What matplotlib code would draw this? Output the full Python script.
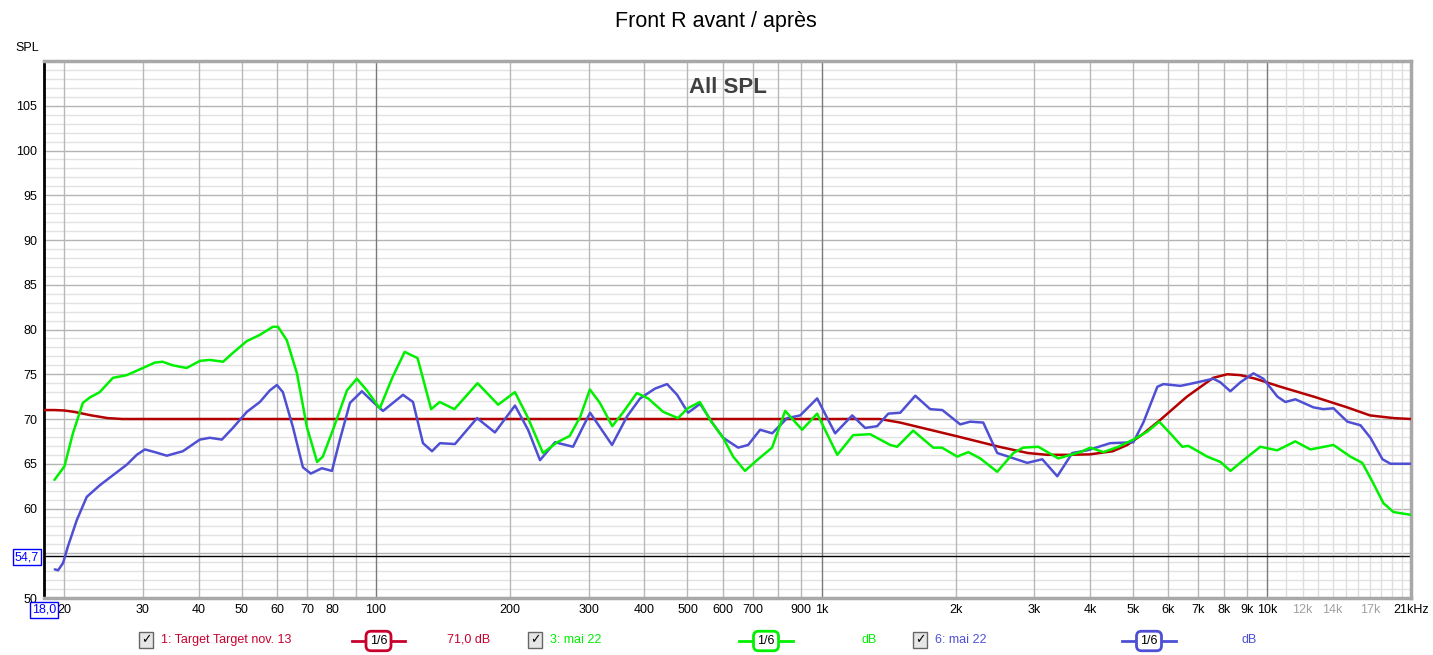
import matplotlib
matplotlib.use('Agg')
import matplotlib.pyplot as plt
from matplotlib.lines import Line2D

plt.rcParams['font.family'] = ['Liberation Sans', 'DejaVu Sans']

# ---- data (Hz, dB) ----
target_f = [18, 19, 20, 21, 22, 23, 24, 25, 27, 30, 100, 1000, 1350, 1500, 2000, 2500, 2900,
            3200, 3600, 4000, 4500, 4850, 5250, 5750, 6600, 7560, 8130, 8700, 9400, 10700,
            12700, 15100, 17000, 19200, 21000]
target_db = [71.0, 71.0, 70.95, 70.8, 70.6, 70.4, 70.25, 70.1, 70.0, 70.0, 70.0, 70.0, 70.0,
             69.6, 68.1, 66.9, 66.2, 66.0, 66.0, 66.05, 66.4, 67.1, 68.3, 69.9, 72.5, 74.6,
             75.0, 74.9, 74.5, 73.6, 72.5, 71.3, 70.4, 70.1, 70.0]

green_f = [19.0, 20.0, 20.9, 22.0, 22.8, 24.0, 25.7, 27.6, 30.0, 31.9, 33.2, 35.0, 37.6, 40.3,
           42.4, 45.4, 47.8, 51.3, 54.9, 58.7, 60.3, 63.1, 66.5, 70.0, 73.8, 76.0, 80.1, 86.1,
           90.6, 95.4, 102, 109, 116, 124, 133, 139, 150, 169, 188, 205, 219, 237, 255, 272,
           287, 302, 318, 339, 358, 385, 408, 441, 476, 501, 533, 562, 601, 633, 673, 716,
           774, 828, 904, 977, 1084, 1177, 1285, 1353, 1425, 1477, 1604, 1780, 1862, 2014,
           2133, 2268, 2477, 2692, 2833, 3062, 3396, 3802, 4006, 4285, 4634, 5003, 5382, 5720,
           6053, 6442, 6651, 7328, 7848, 8265, 8835, 9642, 10520, 11550, 12490, 14070, 15350,
           16330, 17290, 18210, 19190, 20940]
green_db = [63.2, 64.7, 68.4, 71.8, 72.4, 73.0, 74.6, 74.9, 75.7, 76.3, 76.4, 76.0, 75.7, 76.5,
            76.6, 76.4, 77.4, 78.7, 79.4, 80.3, 80.3, 78.8, 75.1, 69.1, 65.2, 65.8, 68.8, 73.2,
            74.5, 73.2, 71.2, 74.7, 77.5, 76.8, 71.1, 71.9, 71.1, 74.0, 71.6, 73.0, 70.2, 66.2,
            67.4, 68.1, 70.2, 73.3, 71.8, 69.2, 70.7, 72.9, 72.3, 70.8, 70.1, 71.2, 71.9, 69.9,
            67.9, 65.8, 64.2, 65.4, 66.8, 70.9, 68.8, 70.6, 66.0, 68.2, 68.3, 67.7, 67.1, 66.9,
            68.7, 66.8, 66.8, 65.8, 66.3, 65.6, 64.1, 66.2, 66.8, 66.9, 65.6, 66.3, 66.8, 66.3,
            66.9, 67.7, 68.6, 69.7, 68.4, 66.9, 67.0, 65.8, 65.2, 64.2, 65.4, 66.9, 66.5, 67.5,
            66.6, 67.1, 65.8, 65.1, 62.8, 60.6, 59.6, 59.3]

blue_f = [19.03, 19.36, 19.86, 20.35, 21.32, 22.45, 24.02, 25.67, 27.61, 29.07, 30.31, 31.91,
          33.95, 36.88, 40.26, 42.40, 45.11, 47.75, 51.34, 54.90, 57.82, 59.95, 61.83, 65.12,
          68.58, 71.45, 75.62, 79.66, 83.02, 87.45, 93.0, 98.5, 103.7, 109.2, 115.0, 121.1,
          127.5, 133.6, 139.2, 150.4, 168.6, 184.9, 205.1, 219.4, 233.4, 252.2, 276.8, 302.3,
          338.6, 366.0, 391.4, 422.9, 450.0, 473.9, 501.5, 533.8, 567.9, 601.2, 649.5, 683.9,
          727.8, 774.5, 836.9, 894.9, 977.0, 1072, 1171, 1252, 1332, 1411, 1501, 1622, 1752,
          1865, 2046, 2154, 2304, 2477, 2622, 2892, 3126, 3378, 3650, 3945, 4442, 5003, 5268,
          5665, 5844, 6378, 6823, 7564, 7845, 8258, 8698, 9303, 9795, 10530, 10975, 11560,
          12685, 13357, 14067, 15120, 16175, 17030, 18125, 18890, 20940]
blue_db = [53.2, 53.1, 53.9, 55.7, 58.7, 61.3, 62.6, 63.7, 64.9, 66.0, 66.6, 66.3, 65.9, 66.4,
           67.7, 67.9, 67.7, 69.0, 70.8, 71.9, 73.2, 73.8, 73.0, 69.1, 64.6, 63.9, 64.5, 64.2,
           67.7, 71.8, 73.1, 71.9, 70.9, 71.8, 72.7, 71.9, 67.3, 66.4, 67.3, 67.2, 70.1, 68.5,
           71.5, 68.8, 65.4, 67.4, 66.9, 70.7, 67.1, 70.3, 72.3, 73.4, 73.9, 72.7, 70.7, 71.7,
           69.6, 67.9, 66.8, 67.1, 68.8, 68.4, 70.1, 70.4, 72.3, 68.4, 70.4, 69.0, 69.2, 70.6,
           70.7, 72.6, 71.1, 71.0, 69.4, 69.7, 69.6, 66.2, 65.8, 65.1, 65.5, 63.6, 66.2, 66.5,
           67.3, 67.4, 69.6, 73.6, 73.9, 73.7, 74.0, 74.5, 74.1, 73.1, 74.1, 75.1, 74.5, 72.5,
           71.9, 72.2, 71.3, 71.1, 71.2, 69.7, 69.3, 67.9, 65.5, 65.0, 65.0]

cursor_db = 54.7

xtick_pos = [20, 30, 40, 50, 60, 70, 80, 100, 200, 300, 400, 500, 600, 700, 900, 1000,
             2000, 3000, 4000, 5000, 6000, 7000, 8000, 9000, 10000, 12000, 14000, 17000, 21000]
xtick_lab = ['20', '30', '40', '50', '60', '70', '80', '100', '200', '300', '400', '500', '600',
             '700', '900', '1k', '2k', '3k', '4k', '5k', '6k', '7k', '8k', '9k', '10k', '12k',
             '14k', '17k', '21kHz']
grey_labels = ['12k', '14k', '17k']
# the 55 label sits under the 54,7 cursor box in the reference
ytick_pos = [50, 60, 65, 70, 75, 80, 85, 90, 95, 100, 105]

RED = '#b40000'
GREEN = '#00f000'
BLUE = '#4f4fd4'

W, H = 1433, 655
fig = plt.figure(figsize=(W / 100, H / 100), dpi=100)
ax = fig.add_axes([44 / W, 1 - 598 / H, (1411 - 44) / W, (598 - 61) / H])
ax.set_xscale('log')
ax.set_xlim(18, 21000)
ax.set_ylim(50, 110)

# grid
for db in range(51, 110):
    ax.axhline(db, color='#b4b4b4' if db % 5 == 0 else '#e2e2e2', lw=1, zorder=0)
for dec in [10, 100, 1000]:
    for m in range(2, 10):
        f = dec * m
        if f >= 20:
            ax.axvline(f, color='#b8b8b8', lw=1, zorder=0)
for f in [100, 1000, 10000]:
    ax.axvline(f, color='#7a7a7a', lw=1, zorder=0)
for f in range(11000, 21000, 1000):
    ax.axvline(f, color='#dedede', lw=1, zorder=0)

ax.axhline(cursor_db, color='black', lw=1, zorder=1)

line_kw = dict(lw=1.8, solid_joinstyle='round', solid_capstyle='round')
ax.plot(target_f, target_db, color=RED, zorder=3, **line_kw)
ax.plot(blue_f, blue_db, color=BLUE, zorder=4, **line_kw)
ax.plot(green_f, green_db, color=GREEN, zorder=5, **line_kw)

ax.set_xticks(xtick_pos)
ax.set_xticklabels(xtick_lab)
ax.minorticks_off()
ax.set_yticks(ytick_pos)
ax.tick_params(length=0, labelsize=9)
ax.tick_params(axis='x', pad=4)
ax.tick_params(axis='y', pad=5)
for lab in ax.get_xticklabels():
    if lab.get_text() in grey_labels:
        lab.set_color('#a0a0a0')

for s in ['top', 'right', 'bottom']:
    ax.spines[s].set_color('#a8a8a8')
    ax.spines[s].set_linewidth(2.5)
ax.spines['left'].set_color('black')
ax.spines['left'].set_linewidth(2)

ax.text(0.5, 0.97, 'All SPL', transform=ax.transAxes, ha='center', va='top',
        fontsize=16, fontweight='bold', color='#404040')


def px(x, y):
    return x / W, 1 - y / H


fig.text(*px(716, 22), 'Front R avant / après', ha='center', va='center', fontsize=15.5)
fig.text(*px(27, 48), 'SPL', ha='center', va='center', fontsize=9)

box_kw = dict(boxstyle='square,pad=0.15', fc='white', ec='#0000ff', lw=1)
fig.text(*px(27, 557), '54,7', ha='center', va='center', fontsize=9, color='#0000ff', bbox=box_kw)
fig.text(*px(44, 610), '18,0', ha='center', va='center', fontsize=9, color='#0000ff', bbox=box_kw)


def legend_item(xc, label, col, line_x, value_x, value):
    fig.text(*px(xc, 640), '✓', ha='center', va='center', fontsize=9, fontweight='bold',
             family=['DejaVu Sans'],
             bbox=dict(boxstyle='square,pad=0.12', fc='#e6e6e6', ec='#666666', lw=1))
    fig.text(*px(xc + 15, 640), label, ha='left', va='center', fontsize=9, color=col)
    x0, y0 = px(line_x[0], 641)
    x1, _ = px(line_x[1], 641)
    fig.add_artist(Line2D([x0, x1], [y0, y0], transform=fig.transFigure, color=col, lw=2))
    fig.text(*px((line_x[0] + line_x[1]) / 2, 641), '1/6', ha='center', va='center',
             fontsize=9, color='black',
             bbox=dict(boxstyle='round,pad=0.3,rounding_size=0.4', fc='white', ec=col, lw=2))
    fig.text(*px(value_x, 640), value, ha='right', va='center', fontsize=9, color=col)


legend_item(146, '1: Target Target nov. 13', '#c8002d', (352, 405), 490, '71,0 dB')
legend_item(535, '3: mai 22', GREEN, (739, 793), 877, 'dB')
legend_item(920, '6: mai 22', BLUE, (1122, 1176), 1257, 'dB')

fig.savefig('out.png', dpi=100, facecolor='white')
